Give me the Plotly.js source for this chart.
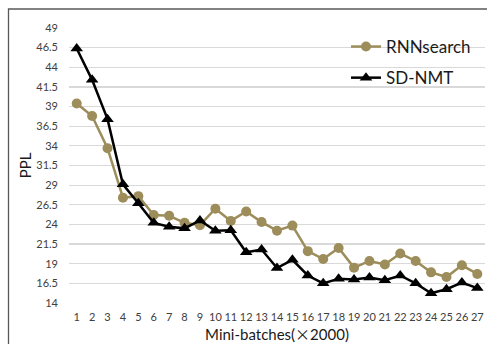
<!DOCTYPE html>
<html>
<head>
<meta charset="utf-8">
<script src="https://cdn.plot.ly/plotly-3.0.1.min.js"></script>
<style>html,body{margin:0;padding:0;background:#fff;}#chart{width:487px;height:344px;}</style>
</head>
<body>
<div id="chart"></div>
<script>
const batches = [1,2,3,4,5,6,7,8,9,10,11,12,13,14,15,16,17,18,19,20,21,22,23,24,25,26,27];
const rnnsearch = [39.4, 37.8, 33.7, 27.4, 27.6, 25.2, 25.1, 24.2, 23.9, 26.0, 24.45, 25.65, 24.3, 23.2, 23.85, 20.6, 19.6, 21.0, 18.5, 19.35, 18.9, 20.3, 19.35, 17.9, 17.3, 18.8, 17.7];
const sdnmt = [46.4, 42.4, 37.4, 29.1, 26.7, 24.2, 23.7, 23.5, 24.5, 23.2, 23.25, 20.45, 20.8, 18.45, 19.5, 17.5, 16.5, 17.1, 17.0, 17.25, 16.9, 17.5, 16.5, 15.25, 15.75, 16.6, 15.9];
const yTicks = [14, 16.5, 19, 21.5, 24, 26.5, 29, 31.5, 34, 36.5, 39, 41.5, 44, 46.5, 49];
const seriesNames = ["RNNsearch", "SD-NMT"];

const FONT = "Lato, 'Liberation Sans', sans-serif";
const traces = [
  {x: batches, y: rnnsearch, name: seriesNames[0], type: "scatter", mode: "lines+markers",
   line: {color: "#9C8D5B", width: 2.5}, marker: {symbol: "circle", size: 10, color: "#9C8D5B"}, legendgroup: "a"},
  {x: batches, y: sdnmt, name: seriesNames[1], type: "scatter", mode: "lines+markers",
   line: {color: "#000000", width: 2.5}, marker: {symbol: "triangle-up", size: 11, color: "#000000"}, legendgroup: "b"}
];
const L = 69, R = 2, T = 28, B = 41, W = 487, H = 344;
const pw = W - L - R, ph = H - T - B;
const layout = {
  width: W, height: H,
  margin: {l: L, r: R, t: T, b: B, pad: 0},
  paper_bgcolor: "#ffffff", plot_bgcolor: "#ffffff",
  font: {family: FONT, color: "#404040"},
  showlegend: true,
  legend: {x: (346 - L) / pw, y: (H - B - 29) / ph, xanchor: "left", yanchor: "top",
    bgcolor: "rgba(0,0,0,0)", font: {size: 17, color: "#1a1a1a", family: FONT},
    traceorder: "grouped", tracegroupgap: 6, itemwidth: 30},
  xaxis: {range: [0.5, 27.5], tickmode: "array", tickvals: batches, ticktext: batches.map(String),
    showgrid: false, zeroline: false, showline: false, ticks: "",
    tickfont: {size: 11, color: "#404040", family: FONT}, ticklabelstandoff: 6,
    title: {text: "Mini-batches(<span style=\"font-family:'Noto Sans CJK SC'\">×</span>2000)", font: {size: 15, color: "#1a1a1a", family: FONT}, standoff: 7}},
  yaxis: {range: [14, 49], tickmode: "array", tickvals: yTicks, ticktext: yTicks.map(String),
    showgrid: true, gridcolor: "#D9D9D9", gridwidth: 1.2, zeroline: false, showline: false, ticks: "",
    tickfont: {size: 11, color: "#404040", family: FONT}, ticklabelstandoff: 10,
    title: {text: "PPL", font: {size: 15, color: "#1a1a1a", family: FONT}, standoff: 1}},
  shapes: [
    {type: "rect", xref: "paper", yref: "paper",
     x0: (8.5 - L) / pw, x1: (W + 20 - L) / pw, y0: (H - B - (H + 20)) / ph, y1: (H - B - 9) / ph,
     line: {color: "#595959", width: 1.3}, fillcolor: "rgba(0,0,0,0)", layer: "below"}
  ]
};
Plotly.newPlot("chart", traces, layout, {displayModeBar: false, staticPlot: true});
</script>
</body>
</html>
